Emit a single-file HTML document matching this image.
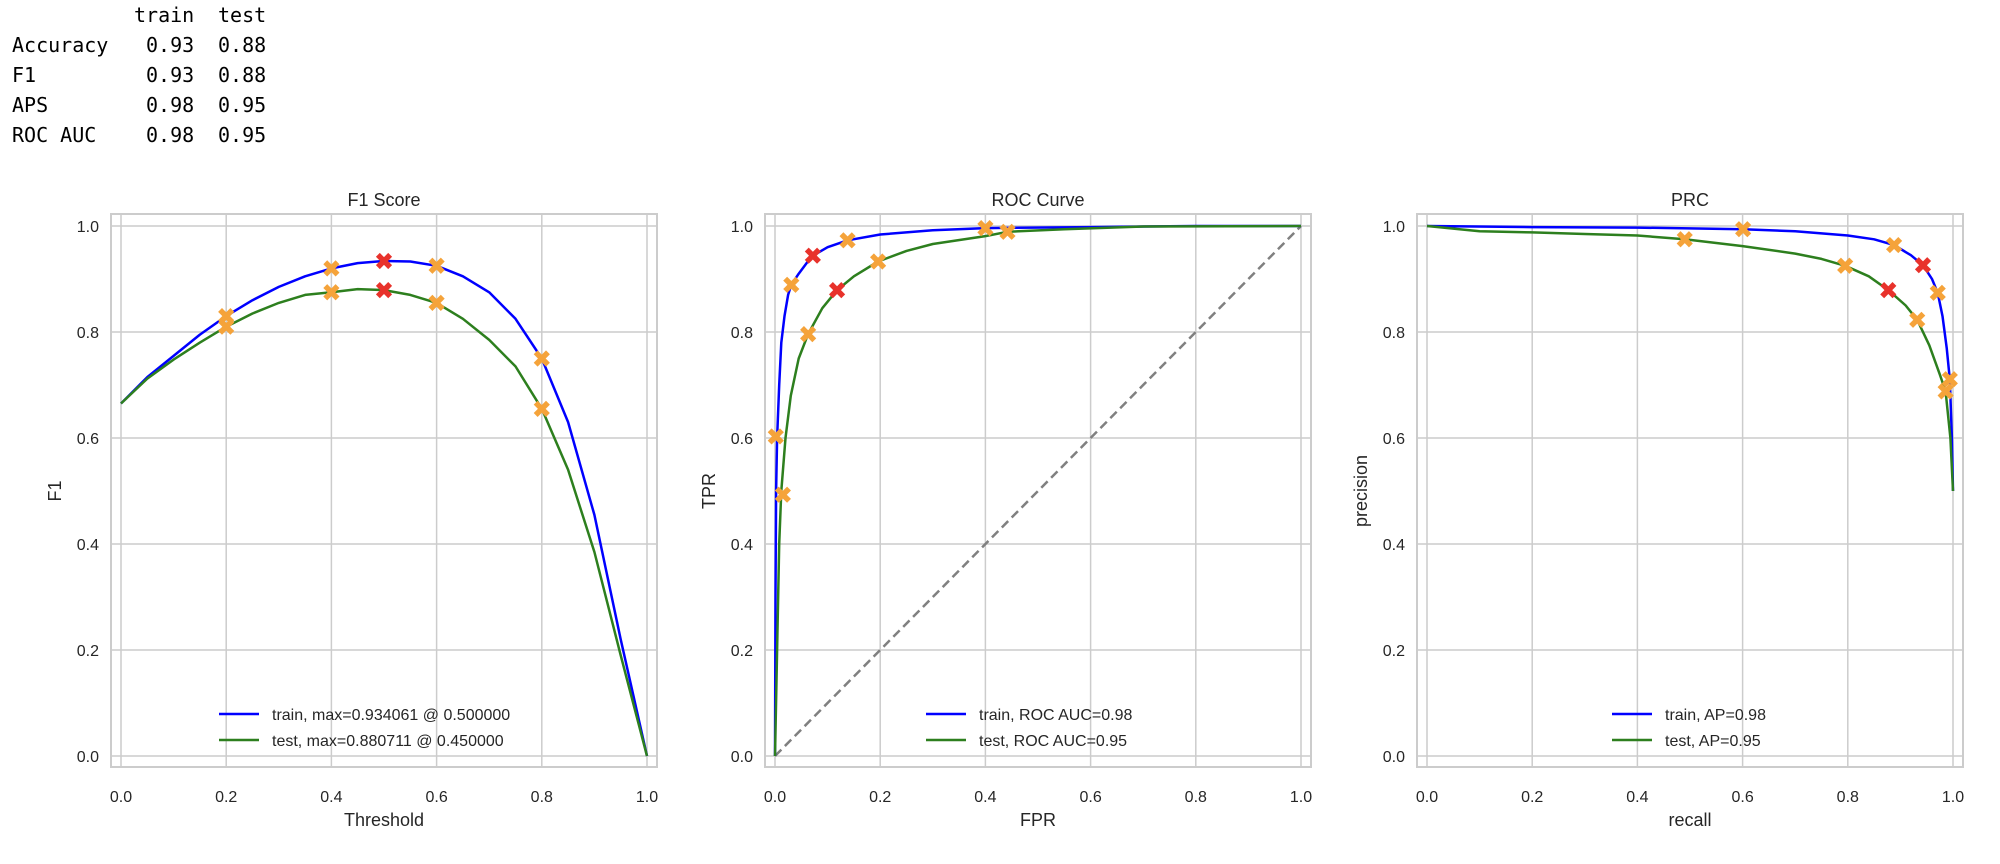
<!DOCTYPE html>
<html><head><meta charset="utf-8"><style>
body{margin:0;background:#fff;width:2000px;height:864px;overflow:hidden}
svg{position:absolute;left:0;top:0}
text{font-family:"Liberation Sans",sans-serif;fill:#262626}
.mono{font-family:"DejaVu Sans Mono","Liberation Mono",monospace;fill:#000;font-size:20px}
</style></head><body>
<svg id="fig" width="2000" height="864" xmlns="http://www.w3.org/2000/svg">
<g>
<text class="mono" x="134" y="22">train</text><text class="mono" x="218" y="22">test</text>
<text class="mono" x="12" y="52">Accuracy</text><text class="mono" x="146" y="52">0.93</text><text class="mono" x="218" y="52">0.88</text>
<text class="mono" x="12" y="82">F1</text><text class="mono" x="146" y="82">0.93</text><text class="mono" x="218" y="82">0.88</text>
<text class="mono" x="12" y="112">APS</text><text class="mono" x="146" y="112">0.98</text><text class="mono" x="218" y="112">0.95</text>
<text class="mono" x="12" y="142">ROC AUC</text><text class="mono" x="146" y="142">0.98</text><text class="mono" x="218" y="142">0.95</text>
</g>
</svg>
<script>
// F1 chart data
const f1Thresholds=[0,0.05,0.1,0.15,0.2,0.25,0.3,0.35,0.4,0.45,0.5,0.55,0.6,0.65,0.7,0.75,0.8,0.85,0.9,0.95,1.0];
const f1Train=[0.665,0.715,0.755,0.795,0.83,0.86,0.885,0.905,0.92,0.93,0.934,0.933,0.925,0.905,0.875,0.825,0.75,0.63,0.455,0.22,0.0];
const f1Test=[0.665,0.712,0.748,0.78,0.81,0.835,0.855,0.87,0.875,0.881,0.879,0.87,0.855,0.825,0.785,0.735,0.655,0.54,0.385,0.19,0.0];
const f1MarkX=[0.2,0.4,0.6,0.8];
const f1TrainMarkY=[0.83,0.92,0.925,0.75];
const f1TestMarkY=[0.81,0.875,0.855,0.655];
const f1BestX=[0.5,0.5];
const f1BestY=[0.934,0.879];
// ROC data
const rocTrainFpr=[0,0.001,0.002,0.004,0.008,0.012,0.018,0.025,0.031,0.045,0.06,0.072,0.1,0.138,0.2,0.3,0.4,0.6,0.8,1];
const rocTrainTpr=[0,0.3,0.5,0.6,0.7,0.78,0.83,0.87,0.889,0.91,0.93,0.944,0.96,0.973,0.984,0.992,0.996,0.998,1,1];
const rocTestFpr=[0,0.004,0.008,0.012,0.02,0.03,0.045,0.063,0.09,0.118,0.15,0.196,0.25,0.3,0.4,0.442,0.55,0.7,1];
const rocTestTpr=[0,0.2,0.4,0.5,0.6,0.68,0.75,0.796,0.845,0.879,0.905,0.933,0.953,0.966,0.981,0.989,0.994,0.999,1];
const rocTrainMarkX=[0.0015,0.031,0.138,0.40];
const rocTrainMarkY=[0.603,0.889,0.973,0.996];
const rocTestMarkX=[0.015,0.063,0.196,0.442];
const rocTestMarkY=[0.493,0.796,0.933,0.989];
const rocBestX=[0.072,0.118];
const rocBestY=[0.944,0.879];
// PRC data
const prTrainRecall=[0,0.2,0.4,0.601,0.7,0.8,0.85,0.888,0.92,0.943,0.96,0.971,0.98,0.988,0.994,0.998,1.0];
const prTrainPrec=[1,0.998,0.997,0.994,0.99,0.982,0.975,0.964,0.945,0.926,0.9,0.874,0.83,0.77,0.711,0.6,0.5];
const prTestRecall=[0,0.05,0.1,0.2,0.3,0.4,0.49,0.55,0.6,0.7,0.75,0.795,0.84,0.877,0.91,0.932,0.955,0.975,0.986,0.995,1.0];
const prTestPrec=[1,0.995,0.99,0.988,0.985,0.982,0.975,0.968,0.962,0.948,0.938,0.925,0.905,0.879,0.85,0.823,0.775,0.72,0.688,0.6,0.5];
const prTrainMarkX=[0.601,0.888,0.971,0.994];
const prTrainMarkY=[0.994,0.964,0.874,0.711];
const prTestMarkX=[0.49,0.795,0.932,0.986];
const prTestMarkY=[0.975,0.925,0.823,0.688];
const prBestX=[0.943,0.877];
const prBestY=[0.926,0.879];
const ticks=["0.0","0.2","0.4","0.6","0.8","1.0"];
const tickVals=[0,0.2,0.4,0.6,0.8,1.0];

const NS="http://www.w3.org/2000/svg";
const svg=document.getElementById('fig');
function mk(tag,attrs,parent){const e=document.createElementNS(NS,tag);for(const k in attrs)e.setAttribute(k,attrs[k]);(parent||svg).appendChild(e);return e;}

const panels=[
 {name:'f1',left:121,title:'F1 Score',xl:'Threshold',yl:'F1',legend:['train, max=0.934061 @ 0.500000','test, max=0.880711 @ 0.450000'],lx:219,
  series:[[f1Thresholds,f1Train,'#0000ff'],[f1Thresholds,f1Test,'#2d7f1e']],
  marks:[[f1MarkX,f1TrainMarkY,'#f5a33a'],[f1MarkX,f1TestMarkY,'#f5a33a'],[f1BestX,f1BestY,'#e8322b']]},
 {name:'roc',left:775,title:'ROC Curve',xl:'FPR',yl:'TPR',legend:['train, ROC AUC=0.98','test, ROC AUC=0.95'],lx:926,diag:true,
  series:[[rocTrainFpr,rocTrainTpr,'#0000ff'],[rocTestFpr,rocTestTpr,'#2d7f1e']],
  marks:[[rocTrainMarkX,rocTrainMarkY,'#f5a33a'],[rocTestMarkX,rocTestMarkY,'#f5a33a'],[rocBestX,rocBestY,'#e8322b']]},
 {name:'prc',left:1427,title:'PRC',xl:'recall',yl:'precision',legend:['train, AP=0.98','test, AP=0.95'],lx:1612,
  series:[[prTrainRecall,prTrainPrec,'#0000ff'],[prTestRecall,prTestPrec,'#2d7f1e']],
  marks:[[prTrainMarkX,prTrainMarkY,'#f5a33a'],[prTestMarkX,prTestMarkY,'#f5a33a'],[prBestX,prBestY,'#e8322b']]}
];
const W=526,Y0=756,Y1=226;
panels.forEach(p=>{
 const g=mk('g',{});
 
 
 const sx=v=>p.left+v*W, sy=v=>Y0-(Y0-Y1)*v;
 const fl=p.left-10,fr=p.left+W+10,ft=214,fb=767;
 tickVals.forEach((v,i)=>{
  const gx=mk('line',{x1:sx(v),x2:sx(v),y1:ft,y2:fb,stroke:'#cccccc','stroke-width':1.5},g);
  
  
  const gy=mk('line',{x1:fl,x2:fr,y1:sy(v),y2:sy(v),stroke:'#cccccc','stroke-width':1.5},g);
  
  
  const tx=mk('text',{x:sx(v),y:802,'font-size':16,'text-anchor':'middle'},g);tx.textContent=ticks[i];
  
  
  const ty=mk('text',{x:fl-12,y:sy(v)+6,'font-size':16,'text-anchor':'end'},g);ty.textContent=ticks[i];
  
  
 });
 const fr_=mk('rect',{x:fl,y:ft,width:fr-fl,height:fb-ft,fill:'none',stroke:'#cccccc','stroke-width':2},g);
 
 
 const t=mk('text',{x:p.left+W/2,y:206,'font-size':18,'text-anchor':'middle'},g);t.textContent=p.title;
 
 
 const xl=mk('text',{x:p.left+W/2,y:826,'font-size':18,'text-anchor':'middle'},g);xl.textContent=p.xl;
 
 
 const ylx=fl-50;
 const yl=mk('text',{x:ylx,y:491,'font-size':18,'text-anchor':'middle',transform:`rotate(-90 ${ylx} 491)`},g);yl.textContent=p.yl;
 
 
 if(p.diag){
  const d=mk('line',{x1:sx(0),y1:sy(0),x2:sx(1),y2:sy(1),stroke:'#808080','stroke-width':2.5,'stroke-dasharray':'9,5'},g);
  
  
 }
 p.series.forEach((s,si)=>{
  const pts=s[0].map((x,i)=>sx(x).toFixed(1)+','+sy(s[1][i]).toFixed(1)).join(' ');
  const l=mk('polyline',{points:pts,fill:'none',stroke:s[2],'stroke-width':2.5,'stroke-linejoin':'round'},g);
  
  
 });
 p.marks.forEach(m=>{
  m[0].forEach((x,i)=>{
   const cx=sx(x),cy=sy(m[1][i]),r=4.2;
   const mm=mk('path',{d:`M${cx-r},${cy-r}L${cx+r},${cy+r}M${cx+r},${cy-r}L${cx-r},${cy+r}`,stroke:m[2],'stroke-width':5.5,'stroke-linecap':'square'},g);
   
   
  });
 });
 [[714,'#0000ff'],[740,'#2d7f1e']].forEach((e,i)=>{
  const le=mk('g',{},g);
  
  
  mk('line',{x1:p.lx,x2:p.lx+40,y1:e[0],y2:e[0],stroke:e[1],'stroke-width':2.5},le);
  const lt=mk('text',{x:p.lx+53,y:e[0]+6,'font-size':16},le);lt.textContent=p.legend[i];
 });
});
</script>
</body></html>
